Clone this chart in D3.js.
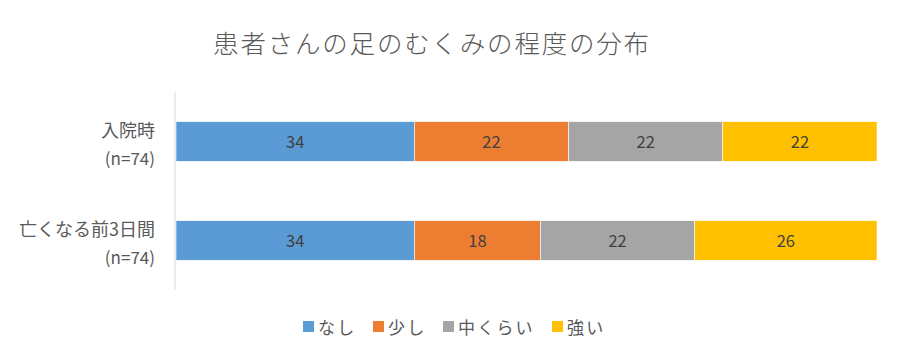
<!DOCTYPE html>
<html><head><meta charset="utf-8">
<script src="https://cdn.jsdelivr.net/npm/d3@7"></script>
<style>body{margin:0;background:#fff}svg{display:block}text{font-family:"Noto Sans CJK JP","Noto Sans",sans-serif}</style>
</head><body><svg id="c" width="900" height="360"></svg>
<script>
const title = "患者さんの足のむくみの程度の分布";
const categories = ["入院時", "亡くなる前3日間"];
const categorySub = ["(n=74)", "(n=74)"];
const seriesNames = ["なし", "少し", "中くらい", "強い"];
const seriesColors = ["#5B9BD5", "#ED7D31", "#A5A5A5", "#FFC000"];
const values = [
  [34, 22, 22, 22],
  [34, 18, 22, 26]
];

const svg = d3.select("#c");
const x = d3.scaleLinear().domain([0, 100]).range([176, 877]);
const y = d3.scaleBand().domain(categories).range([92, 290]).paddingInner(0.6).paddingOuter(0.3);

svg.append("text").attr("x", 432).attr("y", 53).attr("text-anchor", "middle")
  .attr("font-size", 25.5).attr("font-weight", 300).attr("letter-spacing", 1.8)
  .attr("fill", "#595959").text(title);

const rows = categories.map((c, i) => {
  let acc = 0;
  return seriesNames.map((s, j) => { const d = {cat: c, s: j, x0: acc, v: values[i][j]}; acc += values[i][j]; return d; });
}).flat();

svg.selectAll("rect.bar").data(rows).join("rect").attr("class", "bar")
  .attr("x", d => x(d.x0)).attr("width", d => x(d.x0 + d.v) - x(d.x0))
  .attr("y", d => y(d.cat)).attr("height", y.bandwidth())
  .attr("fill", d => seriesColors[d.s]).attr("stroke", "#fff").attr("stroke-width", 0.6);

svg.selectAll("text.lbl").data(rows).join("text").attr("class", "lbl")
  .attr("x", d => x(d.x0 + d.v / 2)).attr("y", d => y(d.cat) + y.bandwidth() / 2 + 6)
  .attr("text-anchor", "middle").attr("font-size", 16.5).attr("fill", "#404040").text(d => d.v);

// axis line
svg.append("line").attr("x1", 175).attr("x2", 175).attr("y1", 92).attr("y2", 290)
  .attr("stroke", "#d9d9d9").attr("stroke-width", 1);

const cat = svg.selectAll("g.cat").data(categories).join("g").attr("class", "cat");
cat.append("text").attr("x", 155).attr("y", d => y(d) + y.bandwidth() / 2 - 5)
  .attr("text-anchor", "end").attr("font-size", 18).attr("fill", "#595959").text(d => d);
cat.append("text").attr("x", 155).attr("y", d => y(d) + y.bandwidth() / 2 + 23)
  .attr("text-anchor", "end").attr("font-size", 17).attr("fill", "#595959").text((d, i) => categorySub[i]);

// legend
const legendX = [303, 373, 443, 552];
const lg = svg.selectAll("g.lg").data(seriesNames).join("g").attr("class", "lg")
  .attr("transform", (d, i) => `translate(${legendX[i]},327)`);
lg.append("rect").attr("x", 0).attr("y", -6).attr("width", 11).attr("height", 11)
  .attr("fill", (d, i) => seriesColors[i]);
lg.append("text").attr("x", 15).attr("y", 6.5).attr("font-size", 17).attr("letter-spacing", 2.2)
  .attr("fill", "#595959").text(d => d);
</script></body></html>
